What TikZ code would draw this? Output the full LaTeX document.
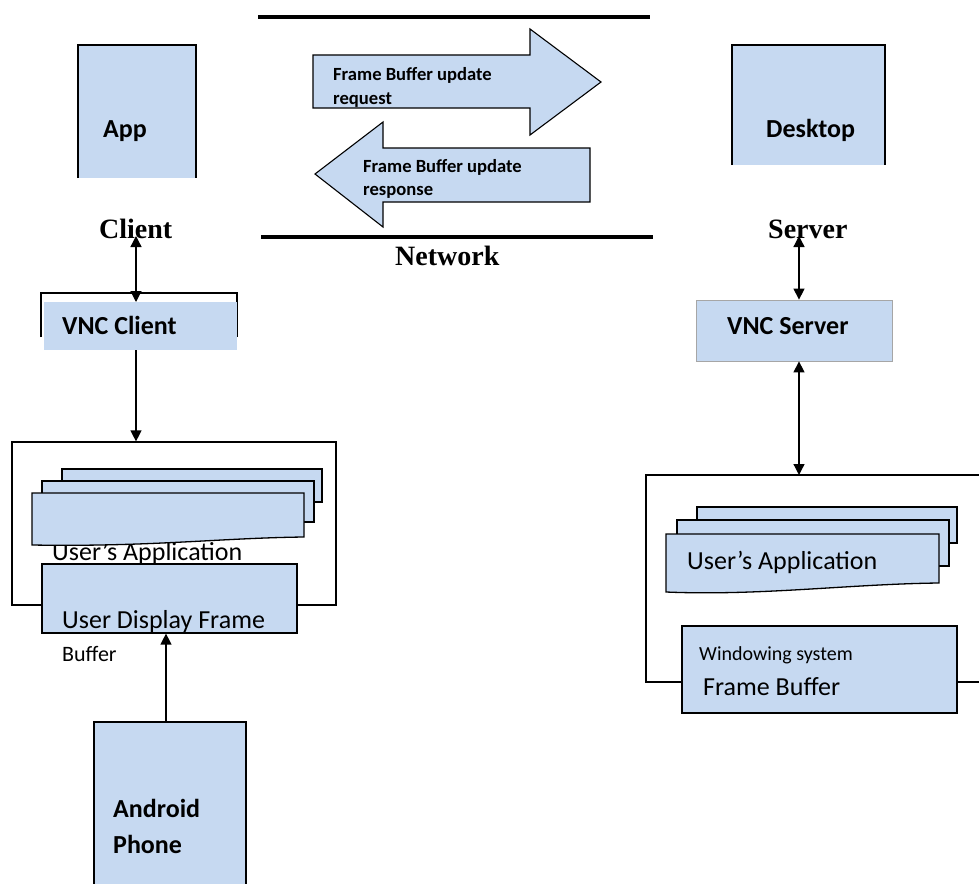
\documentclass[tikz,border=0pt]{standalone}
\usepackage{fontspec}
\setmainfont{Carlito}
\newfontfamily\timesfont{Liberation Serif}
\usetikzlibrary{arrows.meta}
\definecolor{boxblue}{RGB}{198,217,241}
\tikzset{
  blue box/.style={fill=boxblue, draw=none, inner sep=0pt, outer sep=0pt},
  page/.style={fill=boxblue, draw=black, line width=1.3pt, line join=miter},
  frame line/.style={draw=black, line width=1.2pt},
  conn/.style={line width=1.3pt, {Triangle[length=11pt,width=11pt]}-{Triangle[length=11pt,width=11pt]}},
  conn down/.style={line width=1.3pt, -{Triangle[length=11pt,width=11pt]}},
  boldlabel/.style={font=\fontsize{26}{30}\selectfont\bfseries, inner sep=0pt, anchor=base west},
  reglabel/.style={font=\fontsize{26}{30}\selectfont, inner sep=0pt, anchor=base west},
  smalllabel/.style={font=\fontsize{20}{24}\selectfont, inner sep=0pt, anchor=base west},
  arrowlabel/.style={font=\fontsize{18.6}{24}\selectfont\bfseries, inner sep=0pt, anchor=base west},
  serifhead/.style={font=\timesfont\fontsize{28}{32}\selectfont\bfseries, inner sep=0pt, anchor=base west},
  net line/.style={line width=3.8pt},
  block arrow/.style={fill=boxblue, draw=black, line width=1.1pt, line join=miter}
}
\begin{document}
\begin{tikzpicture}[x=1pt,y=-1pt]
\useasboundingbox (0,0) rectangle (979,883);

% network lines
\coordinate (nl1) at (258,17);
\coordinate (nr1) at (650,17);
\coordinate (nl2) at (261,237);
\coordinate (nr2) at (653,237);
\draw[net line] (nl1) -- (nr1);
\draw[line width=3.4pt] (nl2) -- (nr2);
\node[serifhead] (network) at (395,265) {Network};

% block arrows
\draw[block arrow] (313,55) -- (530,55) -- (530,29) -- (601,82) -- (530,135) -- (530,108) -- (313,108) -- cycle;
\draw[block arrow] (590,148) -- (383,148) -- (383,122) -- (315,174) -- (383,227) -- (383,202) -- (590,202) -- cycle;
\node[arrowlabel] (req1) at (333,80) {Frame Buffer update};
\node[arrowlabel] (req2) at (333,104) {request};
\node[arrowlabel] (resp1) at (363,172) {Frame Buffer update};
\node[arrowlabel] (resp2) at (363,195) {response};

% ---------- client side ----------
\node[blue box, minimum width=118pt, minimum height=133pt] (app) at (137,111.5) {};
\draw[frame line] (app.south west) |- (app.north east) -- (app.south east);
\node[boldlabel] (applabel) at (103,137) {App};
\node[serifhead] (client) at (99,238) {Client};

% VNC client
\coordinate (vcA) at (41,337);
\coordinate (vcB) at (237,337);
\draw[frame line] (vcA) |- (237,293) -- (vcB);
\node[blue box, minimum width=193pt, minimum height=48pt] (vncc) at (140.5,326) {};
\node[boldlabel] (vncclabel) at (62,334) {VNC Client};

% left container
\node[draw=black, line width=1.2pt, fill=white, inner sep=0pt, minimum width=324pt, minimum height=163pt] (lcont) at (174,523.5) {};

\node[reglabel] (luserapp) at (52,560) {User’s Application};
% left pages
\draw[page] (62,469) rectangle (322,502);
\draw[page] (42,481) rectangle (314,522);
\draw[page] (32,493) -- (304,493) -- (304,537) .. controls (220,538) and (150,547) .. (32,545) -- cycle;

% User display frame
\node[fill=boxblue, draw=black, line width=1.2pt, inner sep=0pt, minimum width=255pt, minimum height=69pt] (udf) at (169.5,598.5) {};
\node[reglabel] (udflabel) at (62,628) {User Display Frame};
\node[smalllabel, font=\fontsize{22}{26}\selectfont] (bufferlabel) at (62,661) {Buffer};

% Android phone
\node[fill=boxblue, draw=black, line width=1.3pt, inner sep=0pt, minimum width=152pt, minimum height=180pt] (android) at (170,812) {};
\node[boldlabel] (androidlabel) at (113,817) {Android};
\node[boldlabel] (phonelabel) at (113,853) {Phone};

% client connectors
\draw[conn] (136,236) -- (vncc.north -| 136,293);
\draw[conn down] (136,350) -- (lcont.north -| 136,0);
\draw[conn down] (android.north -| 166,0) -- (udf.south -| 166,0);

% ---------- server side ----------
\node[blue box, minimum width=153pt, minimum height=120pt] (desk) at (808.5,105) {};
\draw[frame line] (desk.south west) |- (desk.north east) -- (desk.south east);
\node[boldlabel] (desklabel) at (766,137) {Desktop};
\node[serifhead] (server) at (768,238) {Server};

\node[fill=boxblue, draw=black!35, line width=0.8pt, inner sep=0pt, minimum width=196pt, minimum height=61pt] (vncs) at (794,330.5) {};
\node[boldlabel] (vncslabel) at (727,334) {VNC Server};

% right container (extends past the edge)
\coordinate (rcTL) at (646,475);
\coordinate (rcTR) at (979,475);
\coordinate (rcBL) at (646,682);
\coordinate (rcBR) at (979,682);
\draw[frame line] (rcTR) -- (rcTL) -- (rcBL) -- (rcBR);

% right pages
\draw[page] (697,507) rectangle (957,543);
\draw[page] (677,520) rectangle (949,566);
\draw[page] (666,534) -- (939,534) -- (939,583) .. controls (850,584) and (760,596) .. (666,592) -- cycle;
\node[reglabel] (ruserapp) at (687,569) {User’s Application};

% frame buffer
\node[fill=boxblue, draw=black, line width=1.3pt, inner sep=0pt, minimum width=275pt, minimum height=87pt] (fb) at (819.5,669.5) {};
\node[smalllabel] (winlabel) at (699,660) {Windowing system};
\node[reglabel] (fblabel) at (703,695) {Frame Buffer};

% server connectors
\draw[conn] (799,236) -- (vncs.north -| 799,0);
\draw[conn] (vncs.south -| 799,0) -- (rcTL -| 799,0);
\end{tikzpicture}
\end{document}
